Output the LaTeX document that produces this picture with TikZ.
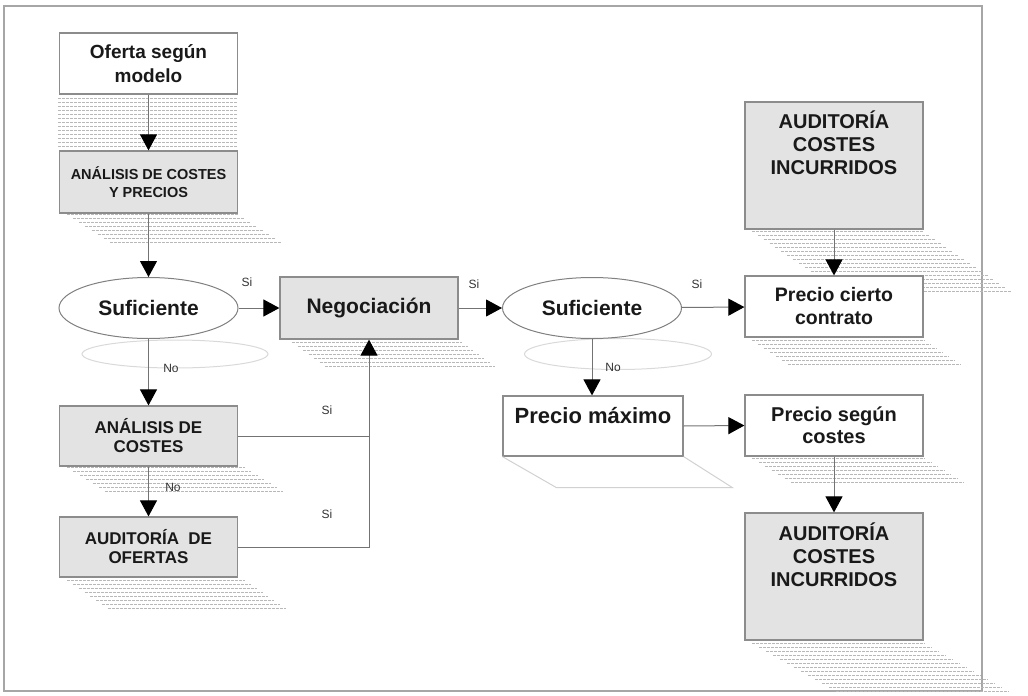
\documentclass[tikz,border=0pt]{standalone}
\usepackage{fontspec}
\setmainfont{Liberation Sans}
\usetikzlibrary{positioning,arrows.meta,shapes.geometric}

% hatched drop shadow: x-left, x-right, y-top, y-bottom, slant at bottom
\newcommand{\hatchshadow}[5]{%
  \pgfmathtruncatemacro\hn{(#4-#3)/4}
  \foreach \k in {0,...,\hn}{\draw[hatch] ({#1+#5*\k*4/(#4-#3)},{#3+4*\k}) -- ({#2+#5*\k*4/(#4-#3)},{#3+4*\k});}}

\begin{document}
\begin{tikzpicture}[x=1pt,y=-1pt,
  box/.style={draw=black!45,line width=1.2pt,minimum width=178pt,minimum height=61pt,inner sep=0pt,align=center,text=black!90},
  graybox/.style={box,fill=black!11},
  whitebox/.style={box,fill=white},
  boxtxt/.style={inner sep=0pt,align=center,text=black!90},
  decision/.style={ellipse,draw=black!50,line width=1pt,fill=white,minimum width=179pt,minimum height=61pt,inner sep=0pt,font=\bfseries\fontsize{21}{24}\selectfont,text=black!90},
  ghost/.style={ellipse,draw=black!15,line width=1pt,inner sep=0pt},
  flow/.style={draw=black!55,line width=1pt,-{Triangle[width=17pt,length=16pt,color=black]}},
  link/.style={draw=black!55,line width=1pt},
  tag/.style={inner sep=0pt,font=\fontsize{12}{14}\selectfont,text=black!80},
  hatch/.style={draw=black!28,line width=0.8pt,dash pattern=on 3pt off 1pt}]
\useasboundingbox (0,0) rectangle (1028,696);
\draw[black!35,line width=1.2pt] (4,6) rectangle (982,691);

% shadows
\hatchshadow{58}{238}{98}{146}{0}
\hatchshadow{67}{238}{214}{242}{43}
\hatchshadow{67}{245}{467}{492}{40}
\hatchshadow{67}{245}{580}{608}{41}
\hatchshadow{292}{462}{342}{368}{36}
\hatchshadow{752}{923}{231}{291}{88}
\hatchshadow{752}{925}{340}{364}{36}
\hatchshadow{752}{925}{458}{485}{44}
\hatchshadow{752}{925}{643}{692}{86}
\node[ghost,minimum width=186pt,minimum height=28pt] (g1) at (175,354) {};
\node[ghost,minimum width=187pt,minimum height=31pt] (g2) at (618,354) {};

% left column
\node[whitebox,font=\bfseries\fontsize{19}{24}\selectfont] (ofe) at (148.5,63.5) {Oferta según\\modelo};
\node[graybox,minimum height=62pt,font=\bfseries\fontsize{14.5}{18}\selectfont] (ancp) at (148.5,182) {ANÁLISIS DE COSTES\\Y PRECIOS};
\node[decision] (suf1) at (148.5,308) {Suficiente};
\node[graybox,minimum height=60pt,font=\bfseries\fontsize{17}{19}\selectfont] (anc) at (148.5,436) {ANÁLISIS DE\\COSTES};
\node[graybox,minimum height=60pt,font=\bfseries\fontsize{17}{19}\selectfont] (aof) at (148.5,547) {AUDITORÍA~~DE\\OFERTAS};

% middle
\node[graybox,minimum height=62pt,font=\bfseries\fontsize{21}{24}\selectfont] (neg) at (369,308) {Negociación};
\node[decision] (suf2) at (592,308) {Suficiente};
\node[whitebox,minimum width=180pt,minimum height=60pt] (pmax) at (593,426) {};
\node[boxtxt,anchor=north,font=\bfseries\fontsize{22}{26}\selectfont] (pmaxt) at ([yshift=-12pt]pmax.north) {Precio máximo};
\draw[black!18,line width=1pt] (pmax.south west) -- ++(54,31) -- ++(176,0) -- (pmax.south east);

% right column
\node[graybox,minimum height=127pt] (aud1) at (834,165.5) {};
\node[boxtxt,anchor=north,font=\bfseries\fontsize{20}{23}\selectfont] (aud1t) at ([yshift=-9pt]aud1.north) {AUDITORÍA\\COSTES\\INCURRIDOS};
\node[whitebox,font=\bfseries\fontsize{19.5}{23}\selectfont] (pcc) at (834,306.5) {Precio cierto\\contrato};
\node[whitebox,font=\bfseries\fontsize{20}{22}\selectfont] (psc) at (834,425.5) {Precio según\\costes};
\node[graybox,minimum height=127pt] (aud2) at (834,576.5) {};
\node[boxtxt,anchor=north,font=\bfseries\fontsize{20}{23}\selectfont] (aud2t) at ([yshift=-10pt]aud2.north) {AUDITORÍA\\COSTES\\INCURRIDOS};

% connectors
\draw[flow] (ofe) -- (ancp);
\draw[flow] (ancp) -- (suf1);
\draw[flow] (suf1) -- (neg);
\draw[flow] (neg) -- (suf2);
\draw[flow] (suf2) -- (pcc);
\draw[flow] (aud1) -- (pcc);
\draw[flow] (suf1) -- (anc);
\draw[flow] (anc) -- (aof);
\draw[flow] (suf2.south) -- (pmax.north -| suf2.south);
\draw[flow] (pmax.east) -- (psc.west);
\draw[flow] (psc) -- (aud2);
\coordinate (join) at (neg.south |- anc.east);
\draw[flow] (anc.east) -- (join) -- (neg.south);
\draw[link] (aof.east) -| (join);

% labels
\node[tag] (si1) at (247,282) {Si};
\node[tag] (si2) at (474,284) {Si};
\node[tag] (si3) at (697,284) {Si};
\node[tag] (si4) at (327,410) {Si};
\node[tag] (si5) at (327,514) {Si};
\node[tag] (no1) at (171,368) {No};
\node[tag] (no2) at (173,487) {No};
\node[tag] (no3) at (613,367) {No};
\end{tikzpicture}
\end{document}
